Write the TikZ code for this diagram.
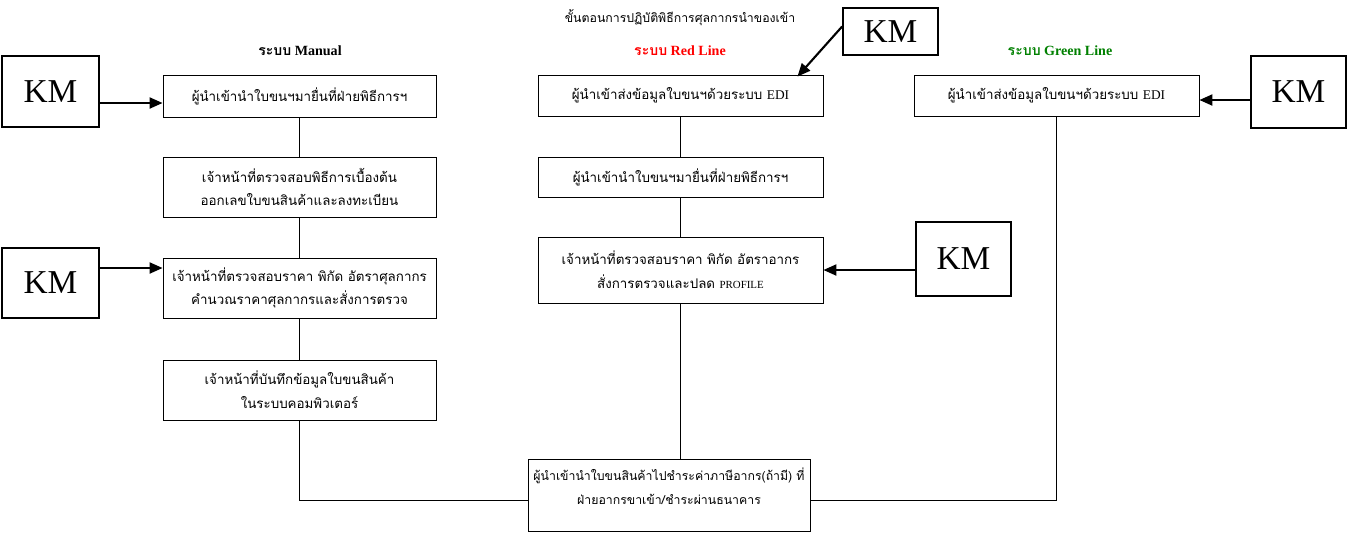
\documentclass[tikz,border=0pt]{standalone}
\usepackage{fontspec}
\setmainfont{Liberation Serif}
\newfontfamily\thaifont[Script=Thai]{Loma}
\usetikzlibrary{arrows.meta}
\definecolor{greenline}{RGB}{0,128,0}
\begin{document}
\begin{tikzpicture}[x=0.2mm, y=-0.2mm,
  stepbox/.style={draw, line width=0.5pt, align=center, inner sep=1pt,
    font=\fontsize{7.6}{13.5}\selectfont\thaifont},
  kmbox/.style={draw, line width=1pt, font=\fontsize{19}{19}\selectfont},
  kmarrow/.style={line width=1.2pt, -{Triangle[length=2.6mm, width=2.2mm]}},
  flow/.style={line width=0.5pt}]

\useasboundingbox ( 0, 0 ) rectangle ( 1349, 534 );

% Titles
\node (title) at ( 680, 18 ) {\fontsize{7}{9}\selectfont\thaifont ขั้นตอนการปฏิบัติพิธีการศุลกากรนำของเข้า};
\node (manualhead) at ( 300, 51 ) {\fontsize{8}{10}\selectfont\bfseries{\thaifont ระบบ} Manual};
\node (redhead) [red] at ( 680, 51 ) {\fontsize{8}{10}\selectfont\bfseries{\thaifont ระบบ} Red Line};
\node (greenhead) [greenline] at ( 1060, 51 ) {\fontsize{8}{10}\selectfont\bfseries{\thaifont ระบบ} Green Line};

% Manual
\node (man1) [stepbox, minimum width=5.46cm, minimum height=0.84cm] at ( 299.5, 96 ) {ผู้นำเข้านำใบขนฯมายื่นที่ฝ่ายพิธีการฯ};
\node (man2) [stepbox, minimum width=5.46cm, minimum height=1.2cm] at ( 299.5, 187 ) {เจ้าหน้าที่ตรวจสอบพิธีการเบื้องต้น\\ออกเลขใบขนสินค้าและลงทะเบียน};
\node (man3) [stepbox, minimum width=5.46cm, minimum height=1.2cm] at ( 299.5, 288 ) {เจ้าหน้าที่ตรวจสอบราคา พิกัด อัตราศุลกากร\\คำนวณราคาศุลกากรและสั่งการตรวจ};
\node (man4) [stepbox, minimum width=5.46cm, minimum height=1.2cm] at ( 299.5, 390 ) {เจ้าหน้าที่บันทึกข้อมูลใบขนสินค้า\\ในระบบคอมพิวเตอร์};

% Red Line
\node (red1) [stepbox, minimum width=5.7cm, minimum height=0.82cm] at ( 680.5, 95.5 ) {ผู้นำเข้าส่งข้อมูลใบขนฯด้วยระบบ {\rmfamily EDI}};
\node (red2) [stepbox, minimum width=5.7cm, minimum height=0.8cm] at ( 680.5, 177 ) {ผู้นำเข้านำใบขนฯมายื่นที่ฝ่ายพิธีการฯ};
\node (red3) [stepbox, minimum width=5.7cm, minimum height=1.32cm] at ( 680.5, 270 ) {เจ้าหน้าที่ตรวจสอบราคา พิกัด อัตราอากร\\สั่งการตรวจและปลด {\rmfamily\fontsize{6.2}{8}\selectfont PROFILE}};

% Green Line
\node (green1) [stepbox, minimum width=5.7cm, minimum height=0.82cm] at ( 1056.5, 95.5 ) {ผู้นำเข้าส่งข้อมูลใบขนฯด้วยระบบ {\rmfamily EDI}};

% Payment
\node (pay) [stepbox, minimum width=5.64cm, minimum height=1.44cm, text depth=0.35cm,
  font=\fontsize{7}{13.5}\selectfont\thaifont] at ( 669, 495 ) {ผู้นำเข้านำใบขนสินค้าไปชำระค่าภาษีอากร(ถ้ามี) ที่\\ฝ่ายอากรขาเข้า/ชำระผ่านธนาคาร};

% KM
\node (km1) [kmbox, minimum width=1.94cm, minimum height=1.42cm] at ( 50.5, 91.5 ) {KM};
\node (km2) [kmbox, minimum width=1.94cm, minimum height=1.4cm] at ( 50.5, 283 ) {KM};
\node (km3) [kmbox, minimum width=1.9cm, minimum height=0.94cm] at ( 890.5, 31.5 ) {KM};
\node (km4) [kmbox, minimum width=1.9cm, minimum height=1.48cm] at ( 963.5, 259 ) {KM};
\node (km5) [kmbox, minimum width=1.9cm, minimum height=1.44cm] at ( 1298.5, 92 ) {KM};

% Flow lines
\draw [flow] (man1) -- (man2);
\draw [flow] (man2) -- (man3);
\draw [flow] (man3) -- (man4);
\draw [flow] (man4.south) |- ([yshift=-1mm]pay.west);
\draw [flow] (red1) -- (red2);
\draw [flow] (red2) -- (red3);
\draw [flow] (red3.south) -- (red3.south |- pay.north);
\draw [flow] (green1.south) |- ([yshift=-1mm]pay.east);

% KM arrows
\draw [kmarrow] ([yshift=-2.3mm]km1.east) -- ([yshift=-2.3mm]km1.east -| man1.west);
\draw [kmarrow] ([yshift=3mm]km2.east) -- ([yshift=3mm]km2.east -| man3.west);
\draw [kmarrow] ([yshift=0.1cm]km3.west) -- ([xshift=-0.52cm, yshift=-0.04cm]red1.north east);
\draw [kmarrow] ([yshift=-2.2mm]km4.west) -- ([yshift=-2.2mm]km4.west -| red3.east);
\draw [kmarrow] ([yshift=-1.6mm]km5.west) -- ([yshift=-1.6mm]km5.west -| green1.east);

\end{tikzpicture}
\end{document}
